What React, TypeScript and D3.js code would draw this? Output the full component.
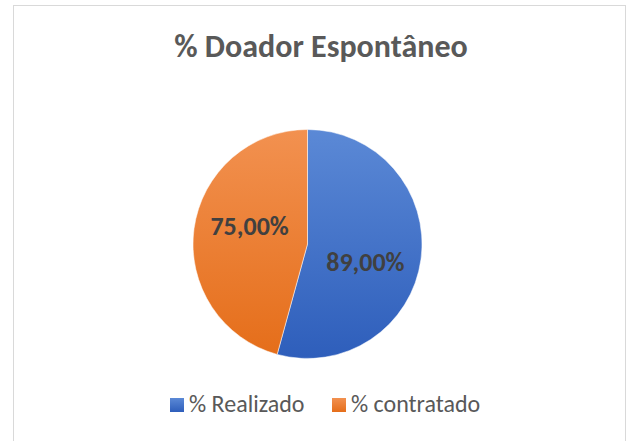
import React from "react";
import * as d3 from "d3";

const categories = ["% Realizado", "% contratado"];
const values = [89, 75];
const labels = ["89,00%", "75,00%"];
const title = "% Doador Espontâneo";

const W = 630;
const H = 441;
const colors = [
  { top: "#5B89D6", bottom: "#2E5EBB" },
  { top: "#F29150", bottom: "#E56E1A" },
];

export default function App() {
  const cx = 307.5;
  const cy = 244;
  const r = 114.5;
  const pie = d3.pie<number>().sort(null).value((d) => d);
  const arcs = pie(values);
  const arc = d3.arc<d3.PieArcDatum<number>>().innerRadius(0).outerRadius(r);
  const font = "Carlito, Calibri, 'Open Sans', 'Noto Sans', sans-serif";
  const labelR = r * 0.53;
  const rot = 0.17;

  const legendX = [170, 332];

  return (
    <svg width={W} height={H} style={{ position: "absolute", left: 0, top: 0 }}>
      <defs>
        {colors.map((c, i) => (
          <linearGradient key={i} id={`g${i}`} x1="0" y1="0" x2="0" y2="1">
            <stop offset="0%" stopColor={c.top} />
            <stop offset="100%" stopColor={c.bottom} />
          </linearGradient>
        ))}
      </defs>
      <rect x={0} y={0} width={W} height={H} fill="#ffffff" />
      <rect x={13.5} y={5.5} width={612} height={445} fill="#ffffff" stroke="#d9d9d9" strokeWidth={1} />
      <text x={321} y={57} textAnchor="middle" fontFamily={font} fontWeight="bold" fontSize={32} fill="#595959">
        {title}
      </text>
      <g transform={`translate(${cx},${cy})`}>
        {arcs.map((a, i) => (
          <path key={i} d={arc(a) || ""} fill={`url(#g${i})`} stroke="#ffffff" strokeWidth={0.5} />
        ))}
        {arcs.map((a, i) => {
          const mid = (a.startAngle + a.endAngle) / 2 + rot;
          const x = Math.sin(mid) * labelR;
          const y = -Math.cos(mid) * labelR;
          return (
            <text key={i} x={x} y={y} dy="0.35em" textAnchor="middle" fontFamily={font} fontWeight="bold" fontSize={26} fill="#404040">
              {labels[i]}
            </text>
          );
        })}
      </g>
      <g>
        {categories.map((c, i) => {
          const x0 = legendX[i];
          return (
            <g key={i}>
              <rect x={x0} y={398} width={14} height={14} fill={`url(#g${i})`} />
              <text x={x0 + 19} y={412} fontFamily={font} fontSize={24} fill="#595959">
                {c}
              </text>
            </g>
          );
        })}
      </g>
    </svg>
  );
}
